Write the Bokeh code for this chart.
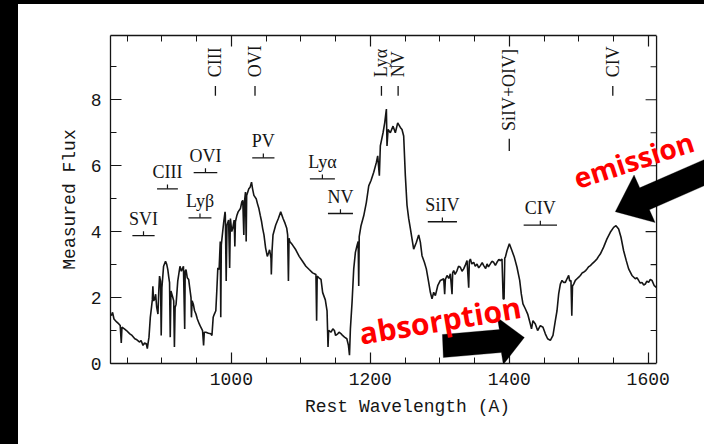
import numpy as np
from bokeh.plotting import figure
from bokeh.models import (Range1d, LinearAxis, SingleIntervalTicker, Label, Span,
                          PolyAnnotation, CustomJSTickFormatter, Div)
from bokeh.layouts import row, column
from bokeh.embed import file_html
from bokeh.resources import INLINE

# ---- quasar spectrum: rest wavelength (A) and measured flux ----
wavelength = [
    827, 829, 831, 834.8, 838, 840, 841.5, 842.5, 846, 849, 853.8, 857, 861, 864, 868, 870,
    872.8, 875, 877.6, 879, 880, 881.4, 883.3, 885, 886.2, 887, 888, 889.5, 891, 892.5,
    894.3, 895.5, 896.6, 898, 899, 900, 902.4, 905.2, 907, 908.5, 910, 911, 912, 913,
    915.7, 917, 918, 919, 920.4, 922.8, 926, 928, 931, 932.8, 933.5, 934.7, 936.5, 938.5,
    940, 941.9, 942.5, 943.5, 945.2, 947, 949, 951, 953.8, 956, 958.5, 960, 961, 963.3,
    967, 970.4, 972, 973.8, 975.5, 977.6, 979, 980.5, 982.3, 984, 984.7, 985.5, 987, 989,
    990.9,
    991.3, 992.5, 993.7, 996, 997.5, 998.6, 1000.5, 1001.9, 1004, 1005, 1005.8, 1008,
    1009.7, 1013, 1015, 1016.4, 1017.9, 1018.8, 1020.3, 1021.3, 1022, 1025.1, 1027, 1029,
    1030.5, 1032.4, 1035.7, 1037.5, 1039.6, 1041.5, 1043.5, 1045, 1046.9, 1049.3, 1051.7,
    1053.5, 1055, 1057, 1057.5, 1058.5, 1059.9, 1063.8, 1067.6, 1071, 1074.4, 1077.3,
    1079.7, 1081, 1082.1, 1083, 1084, 1087.9, 1092.7, 1097.6, 1102.4, 1107.2, 1112,
    1116.9, 1121.7, 1122.7, 1123.5, 1126, 1129, 1131.4, 1135.2, 1137.7, 1139.1, 1140,
    1143.5, 1146, 1148.3, 1150, 1153.1, 1155, 1158, 1160, 1162.8, 1166.2, 1168.5, 1170,
    1171.3, 1173.7, 1176.1,
    1178.5, 1180.9, 1182.5, 1183.3, 1184, 1186.6, 1190.5, 1194.3, 1197.7, 1201, 1204.9,
    1208.7, 1210.6, 1213, 1214.4, 1218.3, 1220.7, 1223.1, 1224, 1225.5, 1228.8, 1232.7,
    1236, 1239.4, 1243.2, 1245.6, 1248, 1250.4, 1252.8, 1255.2, 1257.6, 1260, 1262.4,
    1266.3, 1269.6, 1272, 1274.4, 1277.8, 1280.6, 1284, 1286.4, 1288.8, 1291.2, 1293.6,
    1297, 1300.8,
    1305.6, 1307, 1308, 1310.4, 1313, 1315.2, 1317.6, 1318.5, 1320, 1322, 1324.8, 1327,
    1329.6, 1332, 1334.4, 1337, 1339.2, 1341.6, 1342.5, 1344, 1346, 1348.8, 1351, 1353.6,
    1356, 1358.4, 1361, 1363.2, 1366, 1368, 1370, 1372.7, 1375, 1377.5, 1380, 1382.3,
    1385, 1387.1, 1389.5, 1391.2, 1392.5, 1393.5, 1394.3, 1396.7, 1400.1, 1403.9, 1407.3,
    1411.1, 1415, 1417.3, 1419.7, 1423.1, 1426.5, 1430.3, 1432, 1434.1, 1437.5, 1440.8,
    1444.7, 1448.5, 1451.9, 1455.2, 1459.1, 1462.9, 1466.3,
    1468.7, 1471.1, 1473.5, 1475.9, 1478.3, 1480.7, 1483.1, 1485.5, 1487, 1488.8, 1490,
    1491, 1492.7, 1495.1, 1497.5, 1500, 1502.3, 1505, 1507.1, 1510, 1511.9, 1514, 1516.7,
    1519, 1521.5, 1524, 1526.2, 1528.5, 1531, 1535.8, 1540.6, 1545.4, 1550.2, 1553.6,
    1557.4, 1560.8, 1564.6, 1568.4, 1571.8, 1576.6, 1581.4, 1584, 1586.2, 1588.5, 1591,
    1593.5, 1595.8, 1598, 1600.6, 1603, 1605.4, 1608.7, 1611.6,
]
flux = [
    1.45, 1.55, 1.35, 1.26, 1.2, 1.15, 0.62, 1.1, 1.05, 1.0, 0.9, 0.85, 0.75, 0.72, 0.65, 0.7,
    0.55, 0.62, 0.6, 0.45, 0.6, 0.8, 1.4, 1.7, 1.93, 2.34, 1.9, 1.95, 2.1, 1.7,
    1.5, 2.2, 2.65, 2.5, 0.85, 2.3, 2.95, 3.1, 3.0, 2.85, 2.6, 2.45, 0.8, 2.2,
    2.0, 1.9, 0.5, 1.7, 1.8, 2.5, 2.95, 2.8, 2.95, 1.05, 2.8, 2.85, 2.6, 2.55,
    2.3, 2.0, 1.4, 1.9, 1.8, 1.6, 1.5, 1.35, 1.2, 1.1, 1.0, 0.55, 0.95, 0.95,
    0.92, 0.9, 0.85, 1.4, 1.5, 1.6, 2.2, 2.9, 2.85, 3.7, 1.4, 3.6, 3.9, 4.3,
    4.6,
    4.5, 2.5, 4.2, 4.35, 2.9, 4.4, 4.0, 4.1, 4.35, 3.55, 4.3, 4.5,
    4.6, 4.7, 4.9, 4.95, 3.9, 4.9, 5.2, 3.7, 5.1, 5.3, 5.35, 5.5,
    5.3, 5.1, 5.0, 4.85, 4.7, 4.5, 4.3, 4.1, 3.9, 3.5, 3.25,
    3.35, 3.45, 3.2, 2.7, 3.4, 3.9, 4.2, 4.4, 4.6, 4.4, 4.25,
    4.1, 3.9, 2.5, 3.8, 3.7, 3.6, 3.45, 3.25, 3.1, 2.95, 2.85,
    2.75, 2.7, 1.3, 2.65, 2.6, 2.55, 2.15, 1.93, 1.6, 0.5, 1.0,
    0.95, 1.05, 1.0, 0.85, 0.9, 0.95, 0.9, 0.85, 0.8, 0.75, 0.55, 0.25,
    1.05, 1.86, 2.87,
    3.37, 3.58, 3.7, 2.35, 3.85, 4.18, 4.48, 4.89, 5.39, 5.55, 5.8,
    6.1, 6.3, 5.7, 6.6, 7.0, 7.3, 7.72, 6.6, 7.1, 7.0, 7.2,
    7.0, 7.3, 7.16, 7.1, 6.9, 5.7, 4.8, 4.4, 4.1, 3.78, 3.47,
    3.68, 3.9, 3.68, 3.27, 3.07, 2.87, 2.46, 2.16, 1.96, 2.16, 2.06,
    2.36, 2.52,
    2.57, 2.1, 2.55, 2.67, 2.58, 2.72, 2.1, 2.75, 2.82, 2.7, 2.82, 2.95,
    2.92, 2.8, 2.87, 3.0, 3.12, 2.3, 3.1, 3.17, 3.02, 3.07, 2.95, 3.02,
    2.9, 2.97, 3.06, 2.97, 2.88, 3.02, 2.93, 3.02, 3.1, 3.07, 2.98, 3.07,
    3.16, 3.12, 3.17, 1.96, 1.96, 3.2, 3.22, 3.42, 3.63, 3.42, 3.22,
    2.92, 2.52, 2.11, 1.81, 1.66, 1.5, 1.2, 1.05, 1.3, 1.2, 1.0,
    1.15, 1.1, 0.9, 0.75, 0.7, 0.85, 1.3,
    1.6, 2.11, 2.41, 2.52, 2.46, 2.46, 2.57, 2.67, 2.5, 2.52, 1.45,
    2.35, 2.41, 2.52, 2.57, 2.62, 2.67, 2.75, 2.77, 2.82, 2.87, 2.93, 2.97,
    3.02, 3.07, 3.12, 3.17, 3.25, 3.32, 3.53, 3.78, 3.98, 4.13, 4.18,
    4.08, 3.83, 3.42, 3.12, 2.87, 2.67, 2.57, 2.6, 2.52, 2.44, 2.46,
    2.38, 2.41, 2.5, 2.46, 2.55, 2.52, 2.36, 2.31,
]

# ---- emission lines marked along the top ----
em_names = ["CIII", "OVI", "Ly\u03b1", "NV", "SiIV+OIV]", "CIV"]
em_wave = [977, 1034, 1216, 1240, 1400, 1549]

# ---- absorption troughs marked with a bar ----
abs_names = ["SVI", "CIII", "Ly\u03b2", "OVI", "PV", "Ly\u03b1", "NV", "SiIV", "CIV"]
abs_wave = [873.5, 908, 954.8, 962.7, 1046, 1131, 1157, 1303.7, 1444.7]
abs_halfwidth = [16, 15, 16.5, 17, 16, 18, 18, 21, 24]
abs_level = [3.88, 5.3, 4.42, 5.79, 6.24, 5.6, 4.55, 4.3, 4.2]

X_LO, X_HI = 826, 1612        # extent of the boxed spectrum panel
Y_LO, Y_HI = 0, 9.95

INK = "#151515"
SERIF = "Liberation Serif"
MONO = "Liberation Mono"

# the drawing area runs on to the right edge so the call-out can sit past the box
p = figure(width=686, height=440, output_backend="svg", toolbar_location=None,
           x_range=Range1d(X_LO, 1681), y_range=Range1d(Y_LO, Y_HI),
           min_border_left=92, min_border_right=0, min_border_top=31,
           min_border_bottom=81, outline_line_color=None,
           background_fill_color="white", border_fill_color="white")
p.grid.visible = False

xt = SingleIntervalTicker(interval=200, num_minor_ticks=4)
yt = SingleIntervalTicker(interval=2, num_minor_ticks=2)
blank = CustomJSTickFormatter(code="return ''")


def style_axis(ax):
    ax.axis_line_color = INK
    ax.axis_line_width = 1.3
    ax.major_tick_line_color = INK
    ax.minor_tick_line_color = INK
    ax.major_tick_line_width = 1.2
    ax.minor_tick_line_width = 1.0
    ax.major_tick_in = 11
    ax.major_tick_out = 0
    ax.minor_tick_in = 6
    ax.minor_tick_out = 0
    ax.major_label_text_font = MONO
    ax.major_label_text_font_size = "18px"
    ax.major_label_text_color = INK
    ax.axis_label_text_font = MONO
    ax.axis_label_text_font_size = "18px"
    ax.axis_label_text_font_style = "normal"
    ax.axis_label_text_color = INK


xa = p.xaxis[0]
xa.ticker = xt
xa.bounds = (X_LO, X_HI)
xa.axis_label = "Rest Wavelength (A)"
style_axis(xa)
xa.major_label_standoff = 9
xa.axis_label_standoff = 9

ya = p.yaxis[0]
ya.ticker = yt
ya.axis_label = "Measured Flux"
style_axis(ya)
ya.major_label_standoff = 9
ya.axis_label_standoff = 8

top = LinearAxis(ticker=xt, formatter=blank, bounds=(X_LO, X_HI))
style_axis(top)
p.add_layout(top, "above")

# right side of the box with inward ticks
p.add_layout(Span(location=X_HI, dimension="height", line_color=INK, line_width=1.3))
rt = np.arange(1, 10)
rlen = np.where(rt % 2 == 0, 15.8, 8.6)
p.segment(x0=X_HI - rlen, y0=rt, x1=np.full(rt.shape, X_HI), y1=rt,
          line_color=INK, line_width=1.1)

# spectrum
p.line(wavelength, flux, line_color=INK, line_width=1.6)

# emission line identifications (vertical text with a short dash below)
for name, w in zip(em_names, em_wave):
    low = name.startswith("SiIV")
    y0, y1, ylab = (6.45, 6.82, 7.05) if low else (8.12, 8.42, 8.68)
    p.segment(x0=[w], y0=[y0], x1=[w], y1=[y1], line_color=INK, line_width=1.3)
    p.add_layout(Label(x=w, y=ylab, text=name, angle=np.pi / 2, text_font=SERIF,
                       text_font_size="18px", text_color=INK, text_align="left",
                       text_baseline="middle"))

# absorption trough identifications (label over a bar with a centre tick)
aw = np.array(abs_wave)
ah = np.array(abs_halfwidth)
al = np.array(abs_level)
p.segment(x0=aw - ah, y0=al, x1=aw + ah, y1=al, line_color=INK, line_width=1.3)
p.segment(x0=aw, y0=al, x1=aw, y1=al + 0.13, line_color=INK, line_width=1.2)
for name, w, lv in zip(abs_names, abs_wave, abs_level):
    p.add_layout(Label(x=w, y=lv + 0.2, text=name, text_font=SERIF,
                       text_font_size="18px", text_color=INK, text_align="center",
                       text_baseline="bottom"))

# call-outs
p.add_layout(PolyAnnotation(
    xs=[1303.7, 1385.7, 1382.8, 1421.7, 1391.4, 1388.6, 1305.1],
    ys=[0.879, 1.03, 1.394, 0.788, -0.03, 0.333, 0.182],
    fill_color="black", fill_alpha=1.0, line_color="black", line_width=1))
p.add_layout(PolyAnnotation(
    xs=[1552.6, 1609.9, 1601.7, 1733.6, 1719.8, 1587.8, 1579.6],
    ys=[4.606, 4.276, 4.664, 5.882, 6.548, 5.33, 5.718],
    fill_color="black", fill_alpha=1.0, line_color="black", line_width=1))
p.add_layout(Label(x=1184.3, y=0.91, text="absorption", angle=np.radians(9.5),
                   text_font="Open Sans", text_font_style="bold",
                   text_font_size="30px", text_color="#ff0000",
                   text_align="left", text_baseline="alphabetic"))
p.add_layout(Label(x=1493.6, y=5.6, text="emission", angle=np.radians(18),
                   text_font="Open Sans", text_font_style="bold",
                   text_font_size="28px", text_color="#ff0000",
                   text_align="left", text_baseline="alphabetic"))

top_bar = Div(text="", width=704, height=4, margin=0,
              styles={"background-color": "#000"})
side_bar = Div(text="", width=18, height=440, margin=0,
               styles={"background-color": "#000"})
layout = column(top_bar, row(side_bar, p, spacing=0), spacing=0)

open("out.html", "w").write(file_html(layout, INLINE))
